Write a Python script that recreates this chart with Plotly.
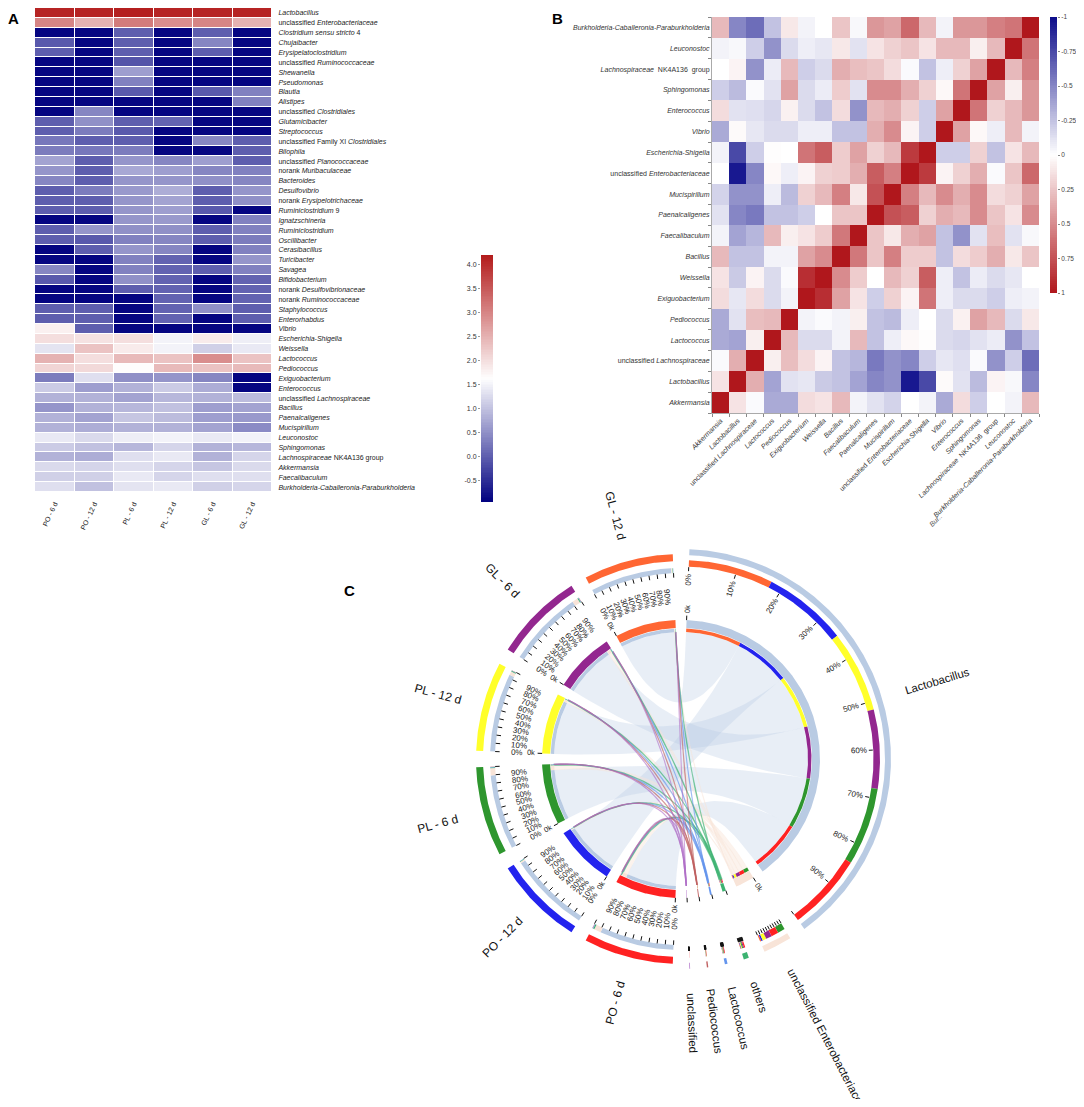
import numpy as np
import plotly.graph_objects as go

W, H, OFF = 1068, 1091, 8
def px(X): return (X - OFF) / W
def py(Y): return 1 - (Y - OFF) / H
FONT = "Liberation Sans, Arial, sans-serif"

# ---------------- Panel A data ----------------
a_samples = ["PO - 6 d", "PO - 12 d", "PL - 6 d", "PL - 12 d", "GL - 6 d", "GL - 12 d"]
a_taxa = [
    "<i>Lactobacillus</i>", "unclassified <i>Enterobacteriaceae</i>", "<i>Clostridium sensu stricto</i> 4",
    "<i>Chujaibacter</i>", "<i>Erysipelatoclostridium</i>", "unclassified <i>Ruminococcaceae</i>",
    "<i>Shewanella</i>", "<i>Pseudomonas</i>", "<i>Blautia</i>", "<i>Alistipes</i>",
    "unclassified <i>Clostridiales</i>", "<i>Glutamicibacter</i>", "<i>Streptococcus</i>",
    "unclassified Family XI <i>Clostridiales</i>", "<i>Bilophila</i>", "unclassified <i>Planococcaceae</i>",
    "norank <i>Muribaculaceae</i>", "<i>Bacteroides</i>", "<i>Desulfovibrio</i>",
    "norank <i>Erysipelotrichaceae</i>", "<i>Ruminiclostridium</i> 9", "<i>Ignatzschineria</i>",
    "<i>Ruminiclostridium</i>", "<i>Oscillibacter</i>", "<i>Cerasibacillus</i>", "<i>Turicibacter</i>",
    "<i>Savagea</i>", "<i>Bifidobacterium</i>", "norank <i>Desulfovibrionaceae</i>",
    "norank <i>Ruminococcaceae</i>", "<i>Staphylococcus</i>", "<i>Enterorhabdus</i>", "<i>Vibrio</i>",
    "<i>Escherichia-Shigella</i>", "<i>Weissella</i>", "<i>Lactococcus</i>", "<i>Pediococcus</i>",
    "<i>Exiguobacterium</i>", "<i>Enterococcus</i>", "unclassified <i>Lachnospiraceae</i>",
    "<i>Bacillus</i>", "<i>Paenalcaligenes</i>", "<i>Mucispirillum</i>", "<i>Leuconostoc</i>",
    "<i>Sphingomonas</i>", "<i>Lachnospiraceae</i> NK4A136 group", "<i>Akkermansia</i>",
    "<i>Faecalibaculum</i>", "<i>Burkholderia-Caballeronia-Paraburkholderia</i>",
]
a_values = [
    [4.1, 4.1, 4.15, 4.1, 4.1, 4.1],
    [3.0, 2.5, 3.1, 2.9, 3.0, 2.5],
    [-0.9, -0.9, 0.0, -0.9, 0.0, -0.9],
    [-0.05, -0.9, 0.0, -0.9, 0.4, -0.9],
    [0.0, -0.9, 0.0, -0.9, 0.0, -0.9],
    [-0.9, -0.9, -0.1, -0.9, -0.9, -0.9],
    [-0.9, -0.9, 0.65, -0.9, -0.9, -0.9],
    [-0.9, -0.9, 0.35, -0.9, -0.9, -0.9],
    [-0.9, -0.9, -0.05, -0.9, -0.05, 0.35],
    [-0.9, -0.9, -0.9, -0.9, -0.9, 0.35],
    [-0.9, 0.4, -0.9, -0.9, -0.9, -0.9],
    [0.0, 0.5, 0.0, 0.05, -0.9, -0.9],
    [0.0, 0.3, -0.05, -0.9, -0.9, -0.9],
    [0.25, 0.0, 0.0, -0.9, 0.4, 0.0],
    [0.3, 0.25, 0.3, -0.9, -0.9, 0.0],
    [0.7, 0.0, 0.55, 0.4, 0.65, 0.0],
    [0.55, 0.0, 0.75, 0.65, 0.4, 0.35],
    [0.4, 0.0, 0.55, 0.55, 0.5, 0.4],
    [0.0, 0.3, 0.6, 0.8, 0.0, 0.55],
    [0.0, 0.0, 0.55, 0.7, 0.0, 0.5],
    [0.0, 0.0, 0.55, 0.65, -0.05, -0.9],
    [-0.9, -0.9, 0.55, 0.6, -0.9, 0.35],
    [0.0, 0.55, 0.5, 0.5, 0.0, 0.35],
    [0.0, -0.05, 0.35, 0.4, 0.0, 0.3],
    [-0.9, 0.0, 0.55, 0.4, -0.9, 0.35],
    [-0.9, -0.9, 0.35, 0.05, -0.9, 0.55],
    [0.4, -0.9, 0.35, 0.05, 0.0, 0.35],
    [-0.05, -0.9, 0.5, 0.05, -0.9, 0.05],
    [-0.9, -0.9, 0.0, 0.05, -0.9, 0.05],
    [-0.9, -0.9, -0.9, 0.05, -0.9, 0.05],
    [0.0, 0.0, -0.9, 0.05, 0.5, 0.0],
    [0.0, 0.0, -0.9, 0.05, -0.9, 0.0],
    [1.8, 0.0, -0.9, -0.9, -0.9, -0.9],
    [2.0, 1.95, 2.0, 1.5, 1.85, 1.45],
    [1.35, 2.3, 1.85, 1.5, 1.15, 1.4],
    [2.5, 2.0, 2.4, 2.3, 2.9, 2.3],
    [2.1, 2.05, 1.65, 2.4, 2.3, 2.4],
    [0.3, 1.3, 0.5, 0.55, 0.4, -0.9],
    [1.1, 0.65, 0.85, 1.1, 0.8, -0.9],
    [0.85, 0.85, 0.7, 0.9, 0.85, 0.95],
    [0.55, 0.85, 0.9, 1.0, 0.65, 0.7],
    [0.85, 0.7, 1.05, 0.95, 0.65, 0.6],
    [0.85, 0.8, 0.85, 0.85, 0.7, 0.45],
    [1.4, 1.25, 1.45, 1.5, 1.4, 1.5],
    [1.1, 1.0, 0.9, 1.2, 0.85, 0.9],
    [0.85, 0.8, 1.3, 1.4, 0.85, 1.2],
    [1.25, 1.2, 1.3, 1.2, 1.05, 1.25],
    [1.15, 1.15, 1.4, 1.2, 1.3, 1.3],
    [1.3, 1.0, 1.35, 1.4, 1.15, 1.2],
]
a_zmin, a_zmax = -0.95, 4.2
a_ticks = [-0.5, 0.0, 0.5, 1.0, 1.5, 2.0, 2.5, 3.0, 3.5, 4.0]

# ---------------- Panel B data ----------------
b_taxa = [
    "<i>Akkermansia</i>", "<i>Lactobacillus</i>", "unclassified <i>Lachnospiraceae</i>", "<i>Lactococcus</i>",
    "<i>Pediococcus</i>", "<i>Exiguobacterium</i>", "<i>Weissella</i>", "<i>Bacillus</i>",
    "<i>Faecalibaculum</i>", "<i>Paenalcaligenes</i>", "<i>Mucispirillum</i>",
    "unclassified <i>Enterobacteriaceae</i>", "<i>Escherichia-Shigella</i>", "<i>Vibrio</i>",
    "<i>Enterococcus</i>", "<i>Sphingomonas</i>", "<i>Lachnospiraceae</i>  NK4A136  group",
    "<i>Leuconostoc</i>", "<i>Burkholderia-Caballeronia-Paraburkholderia</i>",
]
b_corr = [
    [1, 0.12, -0.02, -0.35, -0.35, 0.15, 0.12, 0.3, -0.05, -0.12, -0.18, 0, -0.05, -0.35, 0.15, -0.2, 0, -0.05, 0.3],
    [0.12, 1, 0.35, -0.38, -0.12, -0.1, -0.22, -0.25, -0.38, -0.5, -0.45, -0.95, -0.75, 0.02, -0.12, -0.28, 0.05, -0.03, -0.5],
    [-0.02, 0.35, 1, 0.07, 0.28, 0.15, 0.05, -0.25, -0.3, -0.55, -0.45, -0.5, -0.2, -0.1, -0.13, -0.02, -0.45, -0.2, -0.6],
    [-0.35, -0.38, 0.07, 1, 0.3, -0.15, -0.15, -0.05, 0.3, -0.25, -0.07, 0.03, 0.01, -0.15, -0.17, -0.12, -0.08, -0.45, -0.25],
    [-0.35, -0.12, 0.28, 0.3, 1, -0.05, -0.02, -0.05, 0.07, -0.25, -0.28, -0.07, 0, -0.15, 0.06, 0.4, 0.3, -0.15, 0.1],
    [0.15, -0.1, 0.15, -0.15, -0.05, 1, 0.9, 0.4, 0.12, -0.2, 0.2, 0.05, 0.6, -0.07, -0.15, -0.15, -0.2, -0.07, -0.05],
    [0.12, -0.22, 0.05, -0.15, -0.02, 0.9, 1, 0.5, 0.22, 0, 0.3, 0.2, 0.7, -0.07, -0.25, -0.08, -0.15, -0.1, 0],
    [0.3, -0.25, -0.25, -0.05, -0.05, 0.4, 0.5, 1, 0.58, 0.25, 0.55, 0.22, 0.22, -0.25, 0.15, 0.22, 0.35, 0.1, 0.25],
    [-0.05, -0.38, -0.3, 0.3, 0.07, 0.12, 0.22, 0.58, 1, 0.25, 0.1, 0.35, 0.4, -0.25, -0.45, -0.12, 0.28, -0.12, -0.03],
    [-0.12, -0.5, -0.55, -0.25, -0.25, -0.2, 0, 0.25, 0.25, 1, 0.75, 0.7, 0.2, 0.35, 0.3, 0.5, 0.25, 0.12, 0.5],
    [-0.18, -0.45, -0.45, -0.07, -0.28, 0.2, 0.3, 0.55, 0.1, 0.75, 1, 0.55, 0.3, 0.5, 0.35, 0.5, 0.15, 0.2, 0.4],
    [0, -0.95, -0.5, 0.03, -0.07, 0.05, 0.2, 0.22, 0.35, 0.7, 0.55, 1, 0.85, 0.05, 0.2, 0.35, -0.02, 0.25, 0.65],
    [-0.05, -0.75, -0.2, 0.01, 0, 0.6, 0.7, 0.22, 0.4, 0.2, 0.3, 0.85, 1, -0.2, -0.2, 0.2, -0.25, 0.12, 0.3],
    [-0.35, 0.02, -0.1, -0.15, -0.15, -0.07, -0.07, -0.25, -0.25, 0.35, 0.5, 0.05, -0.2, 1, 0.4, 0.03, -0.07, 0.3, -0.05],
    [0.15, -0.12, -0.13, -0.17, 0.06, -0.15, -0.25, 0.15, -0.45, 0.3, 0.35, 0.2, -0.2, 0.4, 1, 0.6, 0.2, 0.3, 0.45],
    [-0.2, -0.28, -0.02, -0.12, 0.4, -0.15, -0.08, 0.22, -0.12, 0.5, 0.5, 0.35, 0.2, 0.03, 0.6, 1, 0.4, 0.07, 0.45],
    [0, 0.05, -0.45, -0.08, 0.3, -0.2, -0.15, 0.35, 0.28, 0.25, 0.15, -0.02, -0.25, -0.07, 0.2, 0.4, 1, 0.3, 0.55],
    [-0.05, -0.03, -0.2, -0.45, -0.15, -0.07, -0.1, 0.1, -0.12, 0.12, 0.2, 0.25, 0.12, 0.3, 0.3, 0.07, 0.3, 1, 0.6],
    [0.3, -0.5, -0.6, -0.25, 0.1, -0.05, 0, 0.25, -0.03, 0.45, 0.4, 0.65, 0.3, -0.05, 0.45, 0.45, 0.55, 0.6, 1],
]
b_ticks = [-1, -0.75, -0.5, -0.25, 0, 0.25, 0.5, 0.75, 1]
b_ticktext = ["-1", "-0.75", "-0.5", "-0.25", "0", "0.25", "0.5", "0.75", "1"]

# ---------------- Panel C data (relative abundance, %) ----------------
c_samples = ["PO - 6 d", "PO - 12 d", "PL - 6 d", "PL - 12 d", "GL - 6 d", "GL - 12 d"]
c_sample_colors = ["#ff2222", "#2323ee", "#2e962e", "#ffff2a", "#93278f", "#ff6633"]
c_taxa = ["Lactobacillus", "unclassified Enterobacteriaceae", "others", "Lactococcus", "Pediococcus", "unclassified"]
c_taxon_colors = ["#b9cbe3", "#f8e4d8", "#3cb371", "#6495ed", "#c06060", "#b070c8"]
c_lactobacillus = [89.0, 97.0, 89.5, 94.0, 91.0, 97.5]
c_enterobacteriaceae = [8.3, 1.8, 8.5, 4.3, 6.8, 1.5]
c_others = [1.4, 0.6, 1.0, 0.9, 1.2, 0.55]
c_lactococcus = [0.7, 0.35, 0.55, 0.45, 0.6, 0.25]
c_pediococcus = [0.4, 0.15, 0.3, 0.25, 0.25, 0.15]
c_unclassified = [0.2, 0.1, 0.15, 0.1, 0.15, 0.05]
c_abund = [c_lactobacillus, c_enterobacteriaceae, c_others, c_lactococcus, c_pediococcus, c_unclassified]

fig = go.Figure()

# ---------- Panel A ----------
A_SCALE = [[0, "#00007f"], [0.5, "#ffffff"], [1, "#b31b1b"]]
fig.add_trace(go.Heatmap(z=a_values, x=list(range(6)), y=list(range(len(a_taxa))),
                         colorscale=A_SCALE, zmin=a_zmin, zmax=a_zmax, showscale=False,
                         xgap=1, ygap=1, xaxis="x", yaxis="y", hoverinfo="skip"))
a_cb = np.linspace(a_zmin, a_zmax, 150)
fig.add_trace(go.Heatmap(z=[[v] for v in a_cb], x=[0], y=a_cb, colorscale=A_SCALE,
                         zmin=a_zmin, zmax=a_zmax, showscale=False, xaxis="x3", yaxis="y3", hoverinfo="skip"))

# ---------- Panel B ----------
B_SCALE = [[0, "#0c0c8a"], [0.5, "#ffffff"], [1, "#b0171c"]]
fig.add_trace(go.Heatmap(z=b_corr, x=list(range(19)), y=list(range(19)), colorscale=B_SCALE,
                         zmin=-1, zmax=1, showscale=False, xaxis="x2", yaxis="y2", hoverinfo="skip"))
b_cb = np.linspace(-1, 1, 150)
fig.add_trace(go.Heatmap(z=[[v] for v in b_cb], x=[0], y=b_cb, colorscale=B_SCALE,
                         zmin=-1, zmax=1, showscale=False, xaxis="x4", yaxis="y4", hoverinfo="skip"))

# ---------- Panel C (chord diagram) ----------
GAP = 4.6
units = [sum(v) for v in c_abund] + [100.0] * len(c_samples)
deg_per = (360 - GAP * len(units)) / sum(units)
segs = []
ang = GAP / 2
for u in units:
    segs.append((ang, ang + u * deg_per))
    ang += u * deg_per + GAP
tax_seg = segs[:6]
sam_seg = segs[6:]

def P(theta, r):
    t = np.radians(theta)
    return r * np.sin(t), r * np.cos(t)

def arc(a0, a1, r):
    n = max(3, int(abs(a1 - a0) / 0.4) + 3)
    t = np.radians(np.linspace(a0, a1, n))
    return list(r * np.sin(t)), list(r * np.cos(t))

def band(a0, a1, r0, r1):
    x1, y1 = arc(a0, a1, r1)
    x0, y0 = arc(a1, a0, r0)
    return x1 + x0 + [x1[0]], y1 + y0 + [y1[0]]

def bez(p0, p2, n=40):
    t = np.linspace(0, 1, n)
    return list((1 - t) ** 2 * p0[0] + t ** 2 * p2[0]), list((1 - t) ** 2 * p0[1] + t ** 2 * p2[1])

RIB = 127
def ribbon(a1, a2, b1, b2):
    xs, ys = arc(a1, a2, RIB)
    bx, by = bez(P(a2, RIB), P(b1, RIB))
    cx, cy = arc(b1, b2, RIB)
    dx, dy = bez(P(b2, RIB), P(a1, RIB))
    return xs + bx + cx + dx, ys + by + cy + dy

sam_sub = {}
for s in range(6):
    a = sam_seg[s][0]
    for t in range(6):
        w = c_abund[t][s] * deg_per
        sam_sub[(s, t)] = (a, a + w)
        a += w
tax_sub = {}
tax_order = {}
for t in range(6):
    order = sorted(range(6), key=lambda s: -c_abund[t][s])
    tax_order[t] = order
    a = tax_seg[t][0]
    for s in order:
        w = c_abund[t][s] * deg_per
        tax_sub[(s, t)] = (a, a + w)
        a += w

def hex_rgba(h, al):
    h = h.lstrip("#")
    return "rgba(%d,%d,%d,%.2f)" % (int(h[0:2], 16), int(h[2:4], 16), int(h[4:6], 16), al)

for t in range(6):
    for s in range(6):
        a1, a2 = sam_sub[(s, t)]
        b1, b2 = tax_sub[(s, t)]
        xs, ys = ribbon(a1, a2, b1, b2)
        if t == 0:
            fc, lc, lw = hex_rgba(c_taxon_colors[t], 0.32), "rgba(0,0,0,0)", 0
        elif t == 1:
            fc, lc, lw = hex_rgba(c_taxon_colors[t], 0.45), hex_rgba(c_taxon_colors[t], 0.5), 0.5
        else:
            fc, lc, lw = hex_rgba(c_taxon_colors[t], 0.5), hex_rgba(c_taxon_colors[t], 0.6), 1.1
        fig.add_trace(go.Scatter(x=xs, y=ys, mode="lines", fill="toself", fillcolor=fc,
                                 line=dict(color=lc, width=lw), xaxis="x5", yaxis="y5",
                                 hoverinfo="skip", showlegend=False))

polys = {}
def addpoly(color, xy):
    polys.setdefault(color, ([], []))
    polys[color][0].extend(xy[0] + [None])
    polys[color][1].extend(xy[1] + [None])

for t in range(6):
    a0, a1 = tax_seg[t]
    addpoly(c_taxon_colors[t], band(a0, a1, 204, 210))
    addpoly(c_taxon_colors[t], band(a0, a1, 131, 139))
    for s in tax_order[t]:
        b1, b2 = tax_sub[(s, t)]
        addpoly(c_sample_colors[s], band(b1, b2, 192.5, 199))
        addpoly(c_sample_colors[s], band(b1, b2, 127, 130.5))
for s in range(6):
    a0, a1 = sam_seg[s]
    addpoly(c_sample_colors[s], band(a0, a1, 198, 205))
    addpoly(c_sample_colors[s], band(a0, a1, 131, 139))
    for t in range(6):
        b1, b2 = sam_sub[(s, t)]
        addpoly(c_taxon_colors[t], band(b1, b2, 186, 191))
        addpoly(c_taxon_colors[t], band(b1, b2, 127, 130.5))
for color, (xs, ys) in polys.items():
    fig.add_trace(go.Scatter(x=xs, y=ys, mode="lines", fill="toself", fillcolor=color,
                             line=dict(width=0, color=color), xaxis="x5", yaxis="y5",
                             hoverinfo="skip", showlegend=False))

tx, ty = [], []
annots = []
def tick(theta, r0, r1):
    p0, p1 = P(theta, r0), P(theta, r1)
    tx.extend([p0[0], p1[0], None])
    ty.extend([p0[1], p1[1], None])

def textangle(theta):
    theta = theta % 360
    return theta - 90 if theta < 180 else theta - 270

def label(theta, r, text, size, color="#222"):
    x, y = P(theta, r)
    annots.append(dict(x=x, y=y, xref="x5", yref="y5", text=text, showarrow=False,
                       textangle=textangle(theta), font=dict(size=size, color=color, family=FONT),
                       xanchor="center", yanchor="middle"))

def textw(text, size):
    em = sum(0.889 if ch == "%" else (0.28 if ch in " il" else 0.53) for ch in text)
    return em * size

pct_labels = ["%d%%" % (10 * k) for k in range(10)]
for t in range(6):
    a0, a1 = tax_seg[t]
    for k in range(11):
        tick(a0 + (a1 - a0) * k / 10, 192, 188)
    tick(a0, 139, 143.5)
    if t == 0:
        for k in range(10):
            th = a0 + (a1 - a0) * k / 10
            label(th, 185.5 - textw(pct_labels[k], 8) / 2, pct_labels[k], 8)
    if t <= 1:
        label(a0, 150, "0k", 7.5)
for s in range(6):
    a0, a1 = sam_seg[s]
    for k in range(11):
        tick(a0 + (a1 - a0) * k / 10, 186, 181.5)
    tick(a0, 139, 143.5)
    for k in range(10):
        th = a0 + (a1 - a0) * k / 10
        label(th, 170 - textw(pct_labels[k], 8) / 2, pct_labels[k], 8)
    label(a0, 150, "0k", 7.5)
fig.add_trace(go.Scatter(x=tx, y=ty, mode="lines", line=dict(color="#111", width=1),
                         xaxis="x5", yaxis="y5", hoverinfo="skip", showlegend=False))

for s in range(6):
    a0, a1 = sam_seg[s]
    label((a0 + a1) / 2, 252, c_samples[s], 12, color="#111")
a0, a1 = tax_seg[0]
label((a0 + a1) / 2, 268, c_taxa[0], 11.5, color="#111")
for t in range(1, 6):
    a0, a1 = tax_seg[t]
    label((a0 + a1) / 2, 232 + textw(c_taxa[t], 11.5) / 2, c_taxa[t], 11.5, color="#111")

for txt, X, Y in [("A", 6, 18), ("B", 550, 18), ("C", 342, 590)]:
    annots.append(dict(x=px(X), y=py(Y), xref="paper", yref="paper", text="<b>%s</b>" % txt,
                       showarrow=False, xanchor="left", yanchor="middle",
                       font=dict(size=15, color="#000", family=FONT)))
annots.append(dict(x=px(946), y=py(520), xref="paper", yref="paper", text="<i>Bur..</i>",
                   showarrow=False, textangle=-45, font=dict(size=7, color="#555", family=FONT)))

# ---------- layout ----------
CX, CY = 681, 759
c_left, c_right, c_top, c_bot = 330, 1076, 430, 1099
noax = dict(showgrid=False, zeroline=False, showticklabels=False, ticks="", showline=False, automargin=False)

fig.update_layout(
    template="none",
    width=W, height=H, margin=dict(l=0, r=0, t=0, b=0, pad=0, autoexpand=False), autosize=False,
    paper_bgcolor="white", plot_bgcolor="rgba(0,0,0,0)", showlegend=False,
    font=dict(family=FONT, color="#222"),
    xaxis=dict(domain=[px(35), px(272)], anchor="y", tickvals=list(range(6)), ticktext=a_samples,
               tickangle=-65, tickfont=dict(size=7, color="#222"), showgrid=False, zeroline=False,
               ticks="outside", ticklen=4, tickcolor="rgba(0,0,0,0)", range=[-0.5, 5.5],
               automargin=False, showline=False),
    yaxis=dict(domain=[py(492), py(8)], anchor="x", side="right", autorange="reversed",
               tickvals=list(range(len(a_taxa))), ticktext=a_taxa, tickfont=dict(size=7, color="#222"),
               showgrid=False, zeroline=False, ticks="outside", ticklen=4, tickcolor="rgba(0,0,0,0)",
               automargin=False, showline=False),
    xaxis2=dict(domain=[px(712), px(1039)], anchor="y2", tickvals=list(range(19)), ticktext=b_taxa,
                tickangle=-45, tickfont=dict(size=7, color="#333"), showgrid=False, zeroline=False,
                ticks="", showline=True, linecolor="#aaa", linewidth=1, range=[-0.5, 18.5], automargin=False,
                minor=dict(tickvals=[i - 0.5 for i in range(20)], ticks="outside", ticklen=3, tickcolor="#888")),
    yaxis2=dict(domain=[py(413), py(17)], anchor="x2", tickvals=list(range(19)), ticktext=b_taxa,
                tickfont=dict(size=7, color="#333"), showgrid=False, zeroline=False, ticks="",
                showline=True, linecolor="#aaa", linewidth=1, range=[-0.5, 18.5], automargin=False,
                minor=dict(tickvals=[i - 0.5 for i in range(20)], ticks="outside", ticklen=3, tickcolor="#888")),
    xaxis3=dict(domain=[px(481), px(493)], anchor="y3", range=[-0.5, 0.5], **noax),
    yaxis3=dict(domain=[py(502), py(255)], anchor="x3", side="left", range=[a_zmin, a_zmax],
                tickvals=a_ticks, ticktext=["%.1f" % v for v in a_ticks], tickfont=dict(size=7, color="#333"),
                ticks="outside", ticklen=2, tickcolor="#999", showgrid=False, zeroline=False, showline=False,
                automargin=False),
    xaxis4=dict(domain=[px(1050), px(1057)], anchor="y4", range=[-0.5, 0.5], **noax),
    yaxis4=dict(domain=[py(293), py(17)], anchor="x4", side="right", range=[1, -1],
                tickvals=b_ticks, ticktext=b_ticktext, tickfont=dict(size=6.5, color="#444"),
                ticks="outside", ticklen=2, tickcolor="#888", showgrid=False, zeroline=False, showline=False,
                automargin=False),
    xaxis5=dict(domain=[px(c_left), px(c_right)], anchor="y5", range=[c_left - CX, c_right - CX], **noax),
    yaxis5=dict(domain=[py(c_bot), py(c_top)], anchor="x5", range=[CY - c_bot, CY - c_top], **noax),
    annotations=annots,
)

fig.write_html("out.html")
